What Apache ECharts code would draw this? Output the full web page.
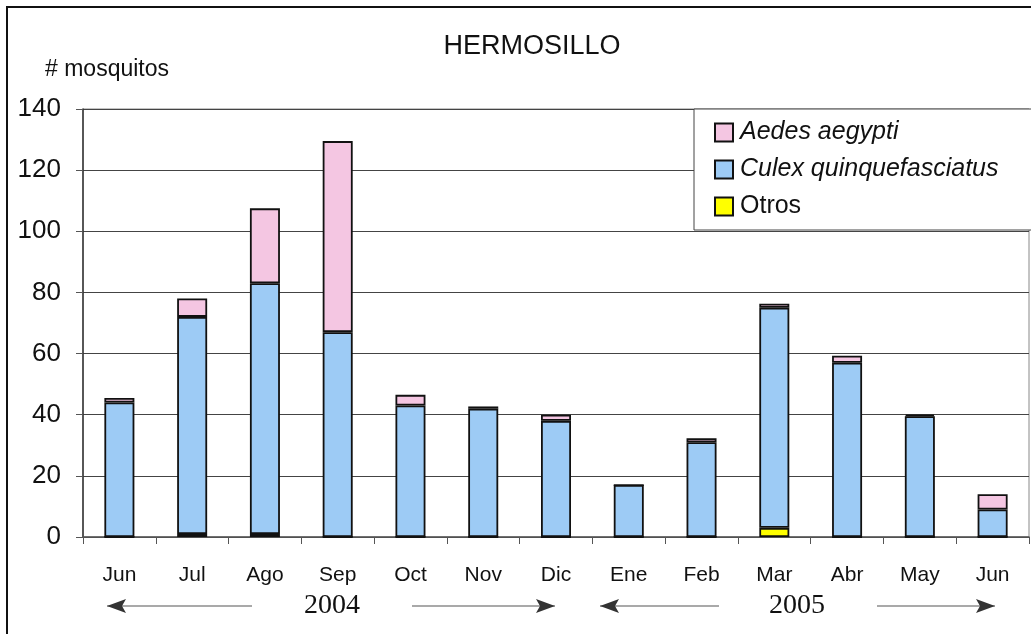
<!DOCTYPE html>
<html>
<head>
<meta charset="utf-8">
<style>
  html, body { margin: 0; padding: 0; background: #fff; }
  #chart { width: 1031px; height: 634px; }
</style>
<script src="https://cdn.jsdelivr.net/npm/echarts@6/dist/echarts.min.js"></script>
</head>
<body>
<div id="chart"></div>
<script>
// meses de muestreo (jun 2004 - jun 2005)
var months = ['Jun', 'Jul', 'Ago', 'Sep', 'Oct', 'Nov', 'Dic', 'Ene', 'Feb', 'Mar', 'Abr', 'May', 'Jun'];
// mosquitos por especie, apilados de abajo hacia arriba
var otros = [0, 1, 1, 0, 0, 0, 0, 0, 0, 3, 0, 0, 0];
var culex = [44, 71, 82, 67, 43, 42, 38, 17, 31, 72, 57, 39.5, 9];
var aedes = [1.5, 6, 24.5, 62.5, 3.5, 0.7, 2, 0, 1.3, 1.3, 2.3, 0.5, 5];
var yTicks = [0, 20, 40, 60, 80, 100, 120, 140];
var years = ['2004', '2005'];

var font = 'Arial, "Liberation Sans", sans-serif';
var serif = '"Times New Roman", "Liberation Serif", serif';
var edge = { borderColor: '#111', borderWidth: 1.8 };

// flecha horizontal: linea + punta triangular
function arrow(x1, x2, y, dir) {
    var tip = dir < 0 ? x1 : x2;
    var base = tip - dir * 19;
    return [
        { type: 'line', shape: { x1: x1, y1: y, x2: x2, y2: y }, style: { stroke: '#555', lineWidth: 1.2 } },
        { type: 'polygon', shape: { points: [[tip, y], [base, y - 7], [base + dir * 4, y], [base, y + 7]] }, style: { fill: '#333' } }
    ];
}

var myChart = echarts.init(document.getElementById('chart'));
var option = {
    backgroundColor: '#fff',
    animation: false,
    title: {
        text: 'HERMOSILLO', left: 527, top: 28, textAlign: 'center',
        textStyle: { fontFamily: font, fontWeight: 'normal', fontSize: 27, color: '#111' }
    },
    legend: {
        orient: 'vertical', left: 694, top: 109,
        padding: [11, 80, 11, 20],
        backgroundColor: '#fff', borderColor: '#444', borderWidth: 1,
        icon: 'rect',
        itemWidth: 18, itemHeight: 18, itemGap: 12,
        data: ['Aedes aegypti', 'Culex quinquefasciatus', 'Otros'],
        textStyle: { fontFamily: font, fontSize: 25, color: '#111', lineHeight: 25, padding: [0, 0, 0, 2] },
        formatter: function (n) { return n === 'Otros' ? n : '{i|' + n + '}'; },
        z: 10
    },
    grid: {
        left: 83, right: 2, top: 109, bottom: 97,
        show: true, borderColor: '#888', borderWidth: 1
    },
    xAxis: {
        type: 'category', data: months,
        axisLine: { lineStyle: { color: '#555', width: 1.5 } },
        axisTick: { show: true, length: 7, lineStyle: { color: '#555' } },
        axisLabel: { fontFamily: font, fontSize: 21, color: '#111', margin: 28 }
    },
    yAxis: {
        type: 'value', min: yTicks[0], max: yTicks[yTicks.length - 1], interval: 20,
        axisLine: { show: true, lineStyle: { color: '#333', width: 1.5 } },
        axisTick: { show: true, length: 7, lineStyle: { color: '#555' } },
        axisLabel: { fontFamily: font, fontSize: 26, color: '#111', margin: 22 },
        splitLine: { lineStyle: { color: '#444', width: 1 } }
    },
    series: [
        { name: 'Otros', type: 'bar', stack: 'm', barWidth: 30, data: otros, itemStyle: Object.assign({ color: '#ffff00' }, edge) },
        { name: 'Culex quinquefasciatus', type: 'bar', stack: 'm', barWidth: 30, data: culex, itemStyle: Object.assign({ color: '#9dcbf5' }, edge) },
        { name: 'Aedes aegypti', type: 'bar', stack: 'm', barWidth: 30, data: aedes, itemStyle: Object.assign({ color: '#f4c6e2' }, edge) }
    ],
    graphic: [
        { type: 'rect', shape: { x: 7, y: 7, width: 1200, height: 800 }, style: { fill: 'none', stroke: '#111', lineWidth: 2 }, silent: true },
        { type: 'text', left: 45, top: 58, style: { text: '# mosquitos', font: '23px ' + font, fill: '#111' } },
        { type: 'text', x: 332, y: 606, style: { text: years[0], font: '28px ' + serif, fill: '#111', align: 'center', verticalAlign: 'middle' } },
        { type: 'text', x: 797, y: 606, style: { text: years[1], font: '28px ' + serif, fill: '#111', align: 'center', verticalAlign: 'middle' } }
    ].concat(arrow(107, 252, 606, -1), arrow(412, 555, 606, 1), arrow(600, 719, 606, -1), arrow(877, 995, 606, 1))
};
option.legend.textStyle.rich = { i: { fontFamily: font, fontSize: 25, fontStyle: 'italic', color: '#111' } };
myChart.setOption(option);
</script>
</body>
</html>
